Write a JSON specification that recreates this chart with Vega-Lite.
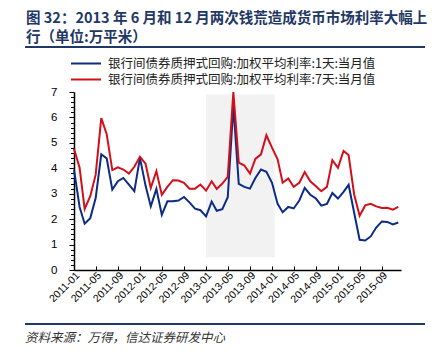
{
  "$schema": "https://vega.github.io/schema/vega-lite/v6.json",
  "width": 327,
  "height": 178,
  "autosize": {"type": "none"},
  "padding": {"left": 74, "top": 92, "right": 31, "bottom": 82},
  "background": "white",
  "config": {"view": {"stroke": null}},
  "title": {
    "text": ["图 32：2013 年 6 月和 12 月两次钱荒造成货币市场利率大幅上", "行（单位:万平米）"],
    "anchor": "start",
    "frame": "group",
    "dx": -48,
    "offset": 0,
    "font": "Noto Sans CJK SC",
    "fontSize": 14.5,
    "fontWeight": "bold",
    "color": "#1F3864",
    "lineHeight": 19
  },
  "resolve": {"axis": {"x": "independent", "y": "independent"}},
  "datasets": {
    "rates": [
      {"date": "2011-01-01", "d1": 3.95, "d7": 4.77},
      {"date": "2011-02-01", "d1": 2.48, "d7": 4.02},
      {"date": "2011-03-01", "d1": 1.82, "d7": 2.40},
      {"date": "2011-04-01", "d1": 2.04, "d7": 2.90},
      {"date": "2011-05-01", "d1": 2.83, "d7": 3.75},
      {"date": "2011-06-01", "d1": 4.55, "d7": 5.97},
      {"date": "2011-07-01", "d1": 4.39, "d7": 5.34},
      {"date": "2011-08-01", "d1": 3.16, "d7": 3.93},
      {"date": "2011-09-01", "d1": 3.49, "d7": 4.04},
      {"date": "2011-10-01", "d1": 3.62, "d7": 3.95},
      {"date": "2011-11-01", "d1": 3.36, "d7": 3.79},
      {"date": "2011-12-01", "d1": 3.10, "d7": 4.06},
      {"date": "2012-01-01", "d1": 4.41, "d7": 4.45},
      {"date": "2012-02-01", "d1": 3.32, "d7": 4.18},
      {"date": "2012-03-01", "d1": 2.50, "d7": 3.23},
      {"date": "2012-04-01", "d1": 3.19, "d7": 3.89},
      {"date": "2012-05-01", "d1": 2.17, "d7": 2.96},
      {"date": "2012-06-01", "d1": 2.70, "d7": 3.27},
      {"date": "2012-07-01", "d1": 2.70, "d7": 3.53},
      {"date": "2012-08-01", "d1": 2.73, "d7": 3.52},
      {"date": "2012-09-01", "d1": 2.87, "d7": 3.43},
      {"date": "2012-10-01", "d1": 2.66, "d7": 3.20},
      {"date": "2012-11-01", "d1": 2.41, "d7": 3.20},
      {"date": "2012-12-01", "d1": 2.35, "d7": 3.36},
      {"date": "2013-01-01", "d1": 2.11, "d7": 3.12},
      {"date": "2013-02-01", "d1": 2.69, "d7": 3.49},
      {"date": "2013-03-01", "d1": 2.33, "d7": 3.19},
      {"date": "2013-04-01", "d1": 2.39, "d7": 3.40},
      {"date": "2013-05-01", "d1": 2.86, "d7": 3.66},
      {"date": "2013-06-01", "d1": 6.45, "d7": 7.0},
      {"date": "2013-07-01", "d1": 3.39, "d7": 4.22},
      {"date": "2013-08-01", "d1": 3.27, "d7": 4.11},
      {"date": "2013-09-01", "d1": 3.20, "d7": 3.79},
      {"date": "2013-10-01", "d1": 3.62, "d7": 4.37},
      {"date": "2013-11-01", "d1": 3.95, "d7": 4.55},
      {"date": "2013-12-01", "d1": 3.86, "d7": 5.30},
      {"date": "2014-01-01", "d1": 3.43, "d7": 4.81},
      {"date": "2014-02-01", "d1": 2.60, "d7": 4.35},
      {"date": "2014-03-01", "d1": 2.27, "d7": 3.43},
      {"date": "2014-04-01", "d1": 2.48, "d7": 3.60},
      {"date": "2014-05-01", "d1": 2.42, "d7": 3.27},
      {"date": "2014-06-01", "d1": 2.73, "d7": 3.43},
      {"date": "2014-07-01", "d1": 3.23, "d7": 3.85},
      {"date": "2014-08-01", "d1": 2.96, "d7": 3.49},
      {"date": "2014-09-01", "d1": 2.81, "d7": 3.29},
      {"date": "2014-10-01", "d1": 2.53, "d7": 3.10},
      {"date": "2014-11-01", "d1": 2.60, "d7": 3.27},
      {"date": "2014-12-01", "d1": 3.03, "d7": 4.32},
      {"date": "2015-01-01", "d1": 2.81, "d7": 4.02},
      {"date": "2015-02-01", "d1": 3.07, "d7": 4.68},
      {"date": "2015-03-01", "d1": 3.35, "d7": 4.52},
      {"date": "2015-04-01", "d1": 2.24, "d7": 2.96},
      {"date": "2015-05-01", "d1": 1.19, "d7": 2.13},
      {"date": "2015-06-01", "d1": 1.16, "d7": 2.54},
      {"date": "2015-07-01", "d1": 1.32, "d7": 2.60},
      {"date": "2015-08-01", "d1": 1.67, "d7": 2.50},
      {"date": "2015-09-01", "d1": 1.91, "d7": 2.44},
      {"date": "2015-10-01", "d1": 1.89, "d7": 2.45},
      {"date": "2015-11-01", "d1": 1.79, "d7": 2.37},
      {"date": "2015-12-01", "d1": 1.87, "d7": 2.48}
    ],
    "one": [{}]
  },
  "layer": [
    {
      "data": {"name": "one"},
      "mark": {"type": "rect", "color": "#F2F2F2"},
      "encoding": {
        "x": {"datum": {"year": 2013, "month": 1, "date": 1, "utc": true}, "type": "temporal", "axis": null},
        "x2": {"datum": {"year": 2014, "month": 1, "date": 16, "utc": true}},
        "y": {"datum": 0.5, "type": "quantitative", "axis": null},
        "y2": {"datum": 6.9}
      }
    },
    {
      "data": {"name": "rates"},
      "transform": [{"fold": ["d1", "d7"], "as": ["series", "value"]}],
      "mark": {"type": "line", "strokeWidth": 2},
      "encoding": {
        "x": {
          "field": "date",
          "type": "temporal",
          "scale": {"type": "utc", "domain": [{"year": 2011, "month": 1, "date": 1, "utc": true}, {"year": 2015, "month": 12, "date": 16, "utc": true}]},
          "axis": {
            "orient": "bottom",
            "title": null,
            "values": [
              {"year": 2011, "month": 1, "date": 1, "utc": true},
              {"year": 2011, "month": 5, "date": 1, "utc": true},
              {"year": 2011, "month": 9, "date": 1, "utc": true},
              {"year": 2012, "month": 1, "date": 1, "utc": true},
              {"year": 2012, "month": 5, "date": 1, "utc": true},
              {"year": 2012, "month": 9, "date": 1, "utc": true},
              {"year": 2013, "month": 1, "date": 1, "utc": true},
              {"year": 2013, "month": 5, "date": 1, "utc": true},
              {"year": 2013, "month": 9, "date": 1, "utc": true},
              {"year": 2014, "month": 1, "date": 1, "utc": true},
              {"year": 2014, "month": 5, "date": 1, "utc": true},
              {"year": 2014, "month": 9, "date": 1, "utc": true},
              {"year": 2015, "month": 1, "date": 1, "utc": true},
              {"year": 2015, "month": 5, "date": 1, "utc": true},
              {"year": 2015, "month": 9, "date": 1, "utc": true}
            ],
            "labelExpr": "utcFormat(datum.value, '%Y-%m')",
            "labelAngle": -45,
            "labelFont": "Liberation Sans",
            "labelFontSize": 10.5,
            "labelColor": "#000000",
            "labelPadding": 4,
            "labelOverlap": false,
            "tickSize": -4,
            "tickColor": "#000000",
            "domainColor": "#000000",
            "domainWidth": 1.5,
            "grid": false
          }
        },
        "y": {
          "field": "value",
          "type": "quantitative",
          "scale": {"domain": [0, 7], "nice": false},
          "axis": {
            "orient": "left",
            "title": null,
            "values": [0, 0.2, 0.4, 0.6, 0.8, 1, 1.2, 1.4, 1.6, 1.8, 2, 2.2, 2.4, 2.6, 2.8, 3, 3.2, 3.4, 3.6, 3.8, 4, 4.2, 4.4, 4.6, 4.8, 5, 5.2, 5.4, 5.6, 5.8, 6, 6.2, 6.4, 6.6, 6.8, 7],
            "labelExpr": "round(datum.value * 5) % 5 == 0 ? format(datum.value, 'd') : ''",
            "labelFont": "Liberation Sans",
            "labelFontSize": 11.5,
            "labelColor": "#000000",
            "labelPadding": 12,
            "labelOverlap": false,
            "tickSize": {"condition": {"test": "round(datum.value * 5) % 5 == 0", "value": 5}, "value": 3.5},
            "tickColor": "#000000",
            "domainColor": "#000000",
            "domainWidth": 1.5,
            "grid": false
          }
        },
        "color": {
          "field": "series",
          "type": "nominal",
          "scale": {"domain": ["d1", "d7"], "range": ["#0B2C84", "#D2101C"]},
          "legend": {
            "title": null,
            "orient": "none",
            "legendX": -4,
            "legendY": -36,
            "symbolType": "stroke",
            "symbolSize": 900,
            "symbolStrokeWidth": 2,
            "clipHeight": 15,
            "rowPadding": 1,
            "labelFont": "Noto Sans CJK SC",
            "labelFontSize": 12.5,
            "labelColor": "#222222",
            "labelLimit": 400,
            "labelOffset": 6,
            "labelExpr": "datum.label == 'd1' ? '银行间债券质押式回购:加权平均利率:1天:当月值' : '银行间债券质押式回购:加权平均利率:7天:当月值'"
          }
        }
      }
    },
    {
      "data": {"name": "one"},
      "mark": {"type": "rule", "color": "#1F3864", "strokeWidth": 2},
      "encoding": {
        "x": {"datum": {"year": 2010, "month": 4, "date": 5, "utc": true}, "type": "temporal", "axis": null},
        "x2": {"datum": {"year": 2016, "month": 4, "date": 27, "utc": true}},
        "y": {"datum": 8.77, "type": "quantitative", "axis": null}
      }
    },
    {
      "data": {"name": "one"},
      "mark": {"type": "rule", "color": "#1F3864", "strokeWidth": 2},
      "encoding": {
        "x": {"datum": {"year": 2010, "month": 4, "date": 5, "utc": true}, "type": "temporal", "axis": null},
        "x2": {"datum": {"year": 2016, "month": 4, "date": 27, "utc": true}},
        "y": {"datum": -2.12, "type": "quantitative", "axis": null}
      }
    },
    {
      "data": {"name": "one"},
      "mark": {"type": "text", "align": "left", "baseline": "middle", "font": "Noto Sans CJK SC", "fontSize": 12.5, "fontStyle": "italic", "color": "#333333"},
      "encoding": {
        "x": {"datum": {"year": 2010, "month": 4, "date": 5, "utc": true}, "type": "temporal", "axis": null},
        "y": {"datum": -2.67, "type": "quantitative", "axis": null},
        "text": {"value": "资料来源：万得，信达证券研发中心"}
      }
    }
  ]
}
